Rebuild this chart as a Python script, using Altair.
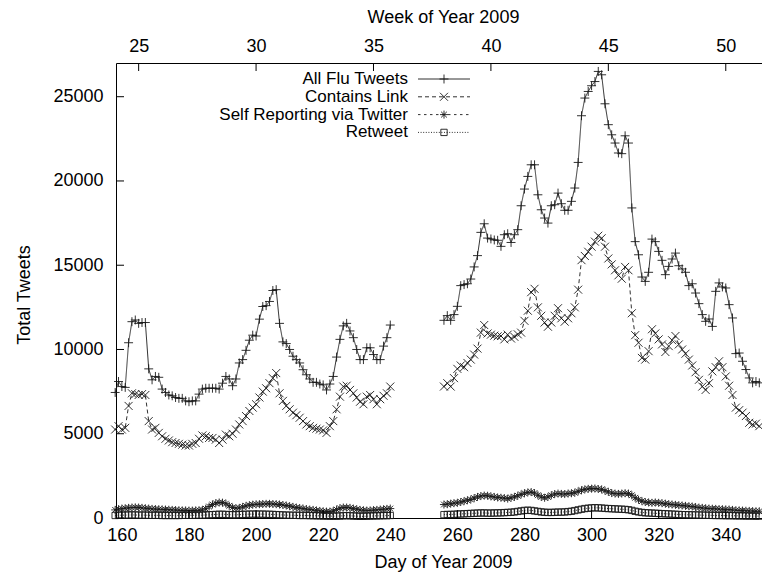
import altair as alt
import pandas as pd

# ---------------- data ----------------
days1 = list(range(158, 241))
days2 = list(range(256, 351))

all1 = [7450, 8100, 7800, 7750, 10400, 11650, 11750, 11550, 11600, 11600,
        8850, 8200, 8400, 8350, 7650, 7450, 7300, 7250, 7150, 7100,
        7100, 6950, 6900, 6950, 6950, 7350, 7650, 7700, 7700, 7700,
        7700, 7650, 8000, 8400, 8250, 7850, 8250, 9200, 9400, 9950,
        10550, 10850, 10800, 11800, 12550, 12600, 12850, 13500, 13550, 11550,
        10450, 10350, 10000, 9600, 9400, 9200, 8800, 8500, 8250, 8050,
        8050, 7950, 7900, 7600, 7950, 8400, 9550, 10600, 11400, 11550,
        11100, 10700, 10000, 9400, 9400, 10100, 10100, 9700, 9400, 9400,
        10200, 10700, 11450]
all2 = [11730, 12010, 11730, 12070, 12560, 13790, 13850, 13900, 14180, 14900,
        15570, 16950, 17460, 16610, 16560, 16500, 16480, 16120, 16810, 16870,
        16350, 16810, 17110, 18530, 19520, 20270, 20960, 20960, 19180, 18290,
        17800, 17500, 18530, 18590, 19280, 18650, 18260, 18260, 18790, 19580,
        21100, 23870, 24920, 25310, 25650, 25900, 26500, 26300, 24580, 23340,
        22740, 22250, 21660, 21620, 22680, 22250, 18400, 16400, 15620, 14300,
        14040, 14580, 16550, 16400, 15820, 15290, 14440, 14930, 15370, 15720,
        14970, 14780, 14580, 13790, 13900, 13350, 12720, 12070, 11670, 11810,
        11370, 13450, 13950, 13710, 13650, 12660, 11870, 9755, 9790, 9300,
        8810, 8310, 8020, 8100, 8020]

link1 = [5250, 5450, 5250, 5350, 6650, 7400, 7350, 7300, 7350, 7300,
         5750, 5250, 5350, 5050, 4850, 4700, 4600, 4500, 4450, 4400,
         4350, 4300, 4300, 4400, 4450, 4700, 4900, 4850, 4750, 4750,
         4650, 4450, 4650, 4950, 4850, 5000, 5250, 5550, 5750, 6050,
         6350, 6550, 6750, 7150, 7500, 7700, 8000, 8300, 8600, 7400,
         6950, 6650, 6450, 6250, 6100, 5950, 5750, 5550, 5450, 5350,
         5300, 5250, 5200, 5050, 5450, 5750, 6450, 7200, 7800, 7850,
         7600, 7400, 7150, 6900, 6750, 7200, 7300, 7050, 6750, 7050,
         7250, 7400, 7800]
link2 = [7800, 8000, 7800, 8300, 8850, 9050, 8950, 9200, 9400, 9700,
         10050, 11000, 11450, 10950, 10880, 10820, 10780, 10800, 10600, 10880,
         10650, 10750, 10900, 11000, 11700, 12300, 13400, 13600, 12500, 12000,
         11600, 11350, 11600, 12000, 12450, 11850, 11650, 11850, 12150, 12500,
         13550, 15300, 15550, 15800, 16100, 16400, 16750, 16600, 16100, 15400,
         15050, 14700, 14400, 14200, 14900, 14700, 12150, 10850, 10400, 9500,
         9400, 9900, 11200, 10950, 10600, 10300, 9850, 10200, 10550, 10800,
         10300, 10000, 9750, 9400, 9050, 8650, 8200, 7800, 7600, 8000,
         8700, 8950, 9300, 8950, 8400, 7850, 7300, 6550, 6400, 6250,
         6050, 5650, 5550, 5600, 5450]

self1 = [480, 520, 560, 580, 600, 620, 630, 620, 600, 580,
         560, 540, 530, 520, 510, 500, 490, 480, 470, 460,
         450, 450, 440, 440, 450, 460, 480, 550, 680, 800,
         880, 920, 910, 850, 720, 620, 580, 600, 660, 720,
         760, 790, 810, 820, 830, 840, 840, 830, 820, 800,
         770, 740, 700, 660, 620, 590, 560, 530, 500, 480,
         450, 420, 400, 380, 380, 420, 500, 580, 620, 620,
         600, 560, 520, 480, 460, 440, 450, 470, 480, 500,
         520, 540, 560]
self2 = [800, 820, 850, 880, 900, 950, 1000, 1050, 1100, 1180,
         1250, 1300, 1330, 1320, 1280, 1250, 1220, 1200, 1180, 1150,
         1200, 1250, 1320, 1400, 1470, 1520, 1540, 1480, 1350, 1250,
         1200, 1250, 1350, 1420, 1450, 1430, 1420, 1450, 1470, 1500,
         1580, 1650, 1700, 1730, 1740, 1750, 1720, 1700, 1620, 1550,
         1480, 1450, 1430, 1450, 1470, 1450, 1350, 1200, 1080, 1000,
         950, 920, 900, 920, 900, 880, 850, 820, 800, 780,
         760, 740, 720, 700, 680, 650, 620, 600, 580, 560,
         550, 540, 530, 520, 510, 500, 480, 460, 450, 440,
         430, 420, 410, 400, 400]

rt1 = [150, 160, 170, 170, 180, 180, 180, 170, 170, 170, 160, 160, 160,
       160, 150, 150, 150, 150, 150, 150, 160, 160, 160, 160, 170, 170, 170, 180,
       190, 200, 210, 220, 220, 210, 200, 190, 190, 200, 210, 220, 230, 230, 230,
       230, 230, 220, 220, 210, 200, 190, 180, 170, 170,
       160, 160, 150, 150, 150, 140, 140, 130, 130, 120, 120, 110, 110, 110, 120,
       130, 140, 130, 120, 110, 100, 100, 110, 120, 120, 130, 130, 140, 140, 150]
rt2 = [200, 210, 210, 220, 230, 240, 250, 260, 270, 280, 290, 300,
       300, 290, 290, 300, 300, 310, 320, 330, 340, 360,
       390, 420, 450, 460, 450, 420, 390, 360, 340, 330,
       330, 340, 350, 350, 360, 380, 400, 440,
       480, 520, 560, 580, 600, 610, 600, 590, 570, 560, 550, 540, 530, 520, 510, 490,
       450, 400, 360, 330, 310, 300, 290, 280, 270, 260, 250, 240, 230, 220,
       210, 200, 195, 190, 185, 180, 175, 170, 165, 160, 155, 150, 150, 145, 140,
       140, 135, 130, 130, 125, 120, 120, 115, 110, 110]

series_names = ["All Flu Tweets", "Contains Link", "Self Reporting via Twitter", "Retweet"]
series1 = [all1, link1, self1, rt1]
series2 = [all2, link2, self2, rt2]

y_ticks = [0, 5000, 10000, 15000, 20000, 25000]
x_ticks = [160, 180, 200, 220, 240, 260, 280, 300, 320, 340]
week_ticks = [25, 30, 35, 40, 45, 50]

# ---------------- layout / style ----------------
W, H = 646, 455
X_DOM = [158.25, 350.8]
WEEK_DOM = [(X_DOM[0] + 10) / 7, (X_DOM[1] + 10) / 7]
Y_DOM = [0, 27000]
FONT = "Liberation Sans"
FS = 18
LEG_FS = 17
INK = "#1a1a1a"

dashes = [[1, 0], [4, 3], [2.5, 3.5], [1, 1.6]]
shapes = ["M-1,0L1,0M0,-1L0,1",
          "M-1,-1L1,1M-1,1L1,-1",
          "M-1,0L1,0M0,-1L0,1M-0.72,-0.72L0.72,0.72M-0.72,0.72L0.72,-0.72",
          "square"]
sizes = [80, 64, 64, 40]

rows = []
for name, s1, s2 in zip(series_names, series1, series2):
    assert len(s1) == len(days1) and len(s2) == len(days2), name
    for d, v in zip(days1, s1):
        rows.append({"day": d, "value": v, "series": name, "seg": 1})
    for d, v in zip(days2, s2):
        rows.append({"day": d, "value": v, "series": name, "seg": 2})
df = pd.DataFrame(rows)

xscale = alt.Scale(domain=X_DOM, nice=False, zero=False)
yscale = alt.Scale(domain=Y_DOM, nice=False)

xaxis = alt.Axis(values=x_ticks, ticks=False, grid=False, domainColor="black",
                 labelPadding=8, title="Day of Year 2009",
                 titleX=W / 2 + 4, titleY=44, titleBaseline="middle",
                 titleAlign="center")
yaxis = alt.Axis(values=y_ticks, format="d", ticks=False, grid=False, domainColor="black",
                 labelPadding=13, title="Total Tweets", titleAngle=270,
                 titleX=-92, titleY=H / 2 + 4, titleBaseline="middle",
                 titleAlign="center")

X = alt.X("day:Q", scale=xscale, axis=xaxis)
Y = alt.Y("value:Q", scale=yscale, axis=yaxis)

layers = []
base = alt.Chart(df)
for i, name in enumerate(series_names):
    sub = base.transform_filter(alt.datum.series == name)
    layers.append(sub.mark_line(stroke=INK, strokeWidth=0.9,
                                strokeDash=dashes[i]).encode(x=X, y=Y, detail="seg:N"))
for i, name in enumerate(series_names):
    sub = base.transform_filter(alt.datum.series == name)
    layers.append(sub.mark_point(shape=shapes[i], size=sizes[i], filled=False,
                                 stroke=INK, strokeWidth=0.9, opacity=1).encode(x=X, y=Y))

# inward ticks (gnuplot style)
ytick_df = pd.DataFrame({"value": y_ticks})
layers.append(alt.Chart(ytick_df).mark_rule(color="black", strokeWidth=1).encode(
    y=Y, x=alt.value(0), x2=alt.value(8)))
xtick_df = pd.DataFrame({"day": x_ticks})
layers.append(alt.Chart(xtick_df).mark_rule(color="black", strokeWidth=1).encode(
    x=X, y=alt.value(H), y2=alt.value(H - 8)))

# key (gnuplot style: label right-aligned, sample to its right)
legend_df = pd.DataFrame({"name": series_names})
for i, name in enumerate(series_names):
    ly = 16 + 17.8 * i
    ld = alt.Chart(legend_df).transform_filter(alt.datum.name == name)
    layers.append(ld.mark_text(align="right", baseline="middle", font=FONT,
                               fontSize=LEG_FS, color="black").encode(
        text="name:N", x=alt.value(292), y=alt.value(ly)))
    layers.append(ld.mark_rule(stroke=INK, strokeWidth=0.9, strokeDash=dashes[i]).encode(
        x=alt.value(302), x2=alt.value(354), y=alt.value(ly)))
    layers.append(ld.mark_point(shape=shapes[i], size=sizes[i], filled=False,
                                stroke=INK, strokeWidth=0.9, opacity=1).encode(
        x=alt.value(328), y=alt.value(ly)))

main = alt.layer(*layers)

week_df = pd.DataFrame({"week": week_ticks})
week_axis = alt.Axis(orient="top", values=week_ticks, ticks=False, grid=False,
                     domainColor="black", labelPadding=8, title="Week of Year 2009",
                     titleX=W / 2 + 4, titleY=-46, titleBaseline="middle",
                     titleAlign="center")
weeks = alt.Chart(week_df).mark_rule(color="black", strokeWidth=1).encode(
    x=alt.X("week:Q", scale=alt.Scale(domain=WEEK_DOM, nice=False, zero=False), axis=week_axis),
    y=alt.value(0), y2=alt.value(8))

chart = alt.layer(main, weeks).resolve_scale(x="independent").resolve_axis(x="independent").properties(
    width=W, height=H,
    autosize=alt.AutoSizeParams(type="none"),
    padding={"left": 116, "top": 63, "right": 0, "bottom": 55},
    background="white",
).configure_view(stroke=None).configure_axis(
    labelFont=FONT, titleFont=FONT, labelFontSize=FS, titleFontSize=FS,
    titleFontWeight="normal", labelColor="black", titleColor="black",
    domainWidth=1,
)

chart.save("out.html", embed_options={"renderer": "svg", "actions": False})
